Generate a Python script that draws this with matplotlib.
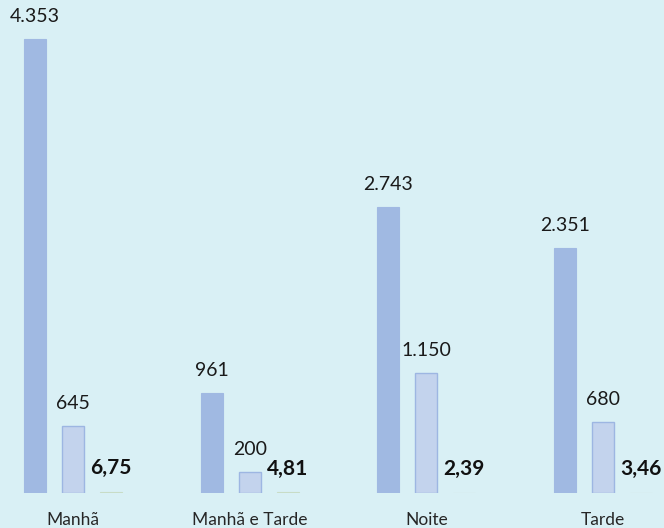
import matplotlib.pyplot as plt
import numpy as np

categories = ["Manhã", "Manhã e Tarde", "Noite", "Tarde"]
serie_a = [4353, 961, 2743, 2351]
serie_b = [645, 200, 1150, 680]
serie_c = [6.75, 4.81, 2.39, 3.46]


def fmt_int(v):
    return f"{v:,}".replace(",", ".")


def fmt_dec(v):
    return f"{v:.2f}".replace(".", ",")


plt.rcParams["font.family"] = ["Lato", "DejaVu Sans"]

bg = "#d9f0f5"
fig = plt.figure(figsize=(6.64, 5.28), dpi=100, facecolor=bg)
ax = fig.add_axes([0, 35 / 528, 1, 493 / 528])
ax.set_facecolor(bg)

x = np.arange(len(categories))
w = 0.125
off = 0.215

ax.bar(x - off, serie_a, w, color="#a0b9e2", edgecolor="#a0b9e2", linewidth=0.8)
ax.bar(x, serie_b, w, color="#c3d3ed", edgecolor="#9db6e2", linewidth=1.0)
ax.bar(x + off, serie_c, w, color="#c8dcc6", edgecolor="#c8dcc6", linewidth=0.8)

pad = 14 / 0.1043
for i in range(len(categories)):
    ax.text(x[i] - off, serie_a[i] + pad, fmt_int(serie_a[i]), ha="center", va="bottom",
            fontsize=14, color="#1a1a1a")
    ax.text(x[i], serie_b[i] + pad, fmt_int(serie_b[i]), ha="center", va="bottom",
            fontsize=14, color="#1a1a1a")
    ax.text(x[i] + off, serie_c[i] + pad, fmt_dec(serie_c[i]), ha="center", va="bottom",
            fontsize=15, fontweight="bold", color="#111111")

ax.set_xlim(-73 / 176.67, 3 + 61 / 176.67)
ax.set_ylim(0, 493 / 0.1043)
ax.set_xticks(x)
ax.set_xticklabels(categories, fontsize=12.5, color="#262626")
ax.tick_params(axis="x", length=0, pad=14)
ax.set_yticks([])
for s in ax.spines.values():
    s.set_visible(False)

fig.savefig("out.png", dpi=100, facecolor=bg)
